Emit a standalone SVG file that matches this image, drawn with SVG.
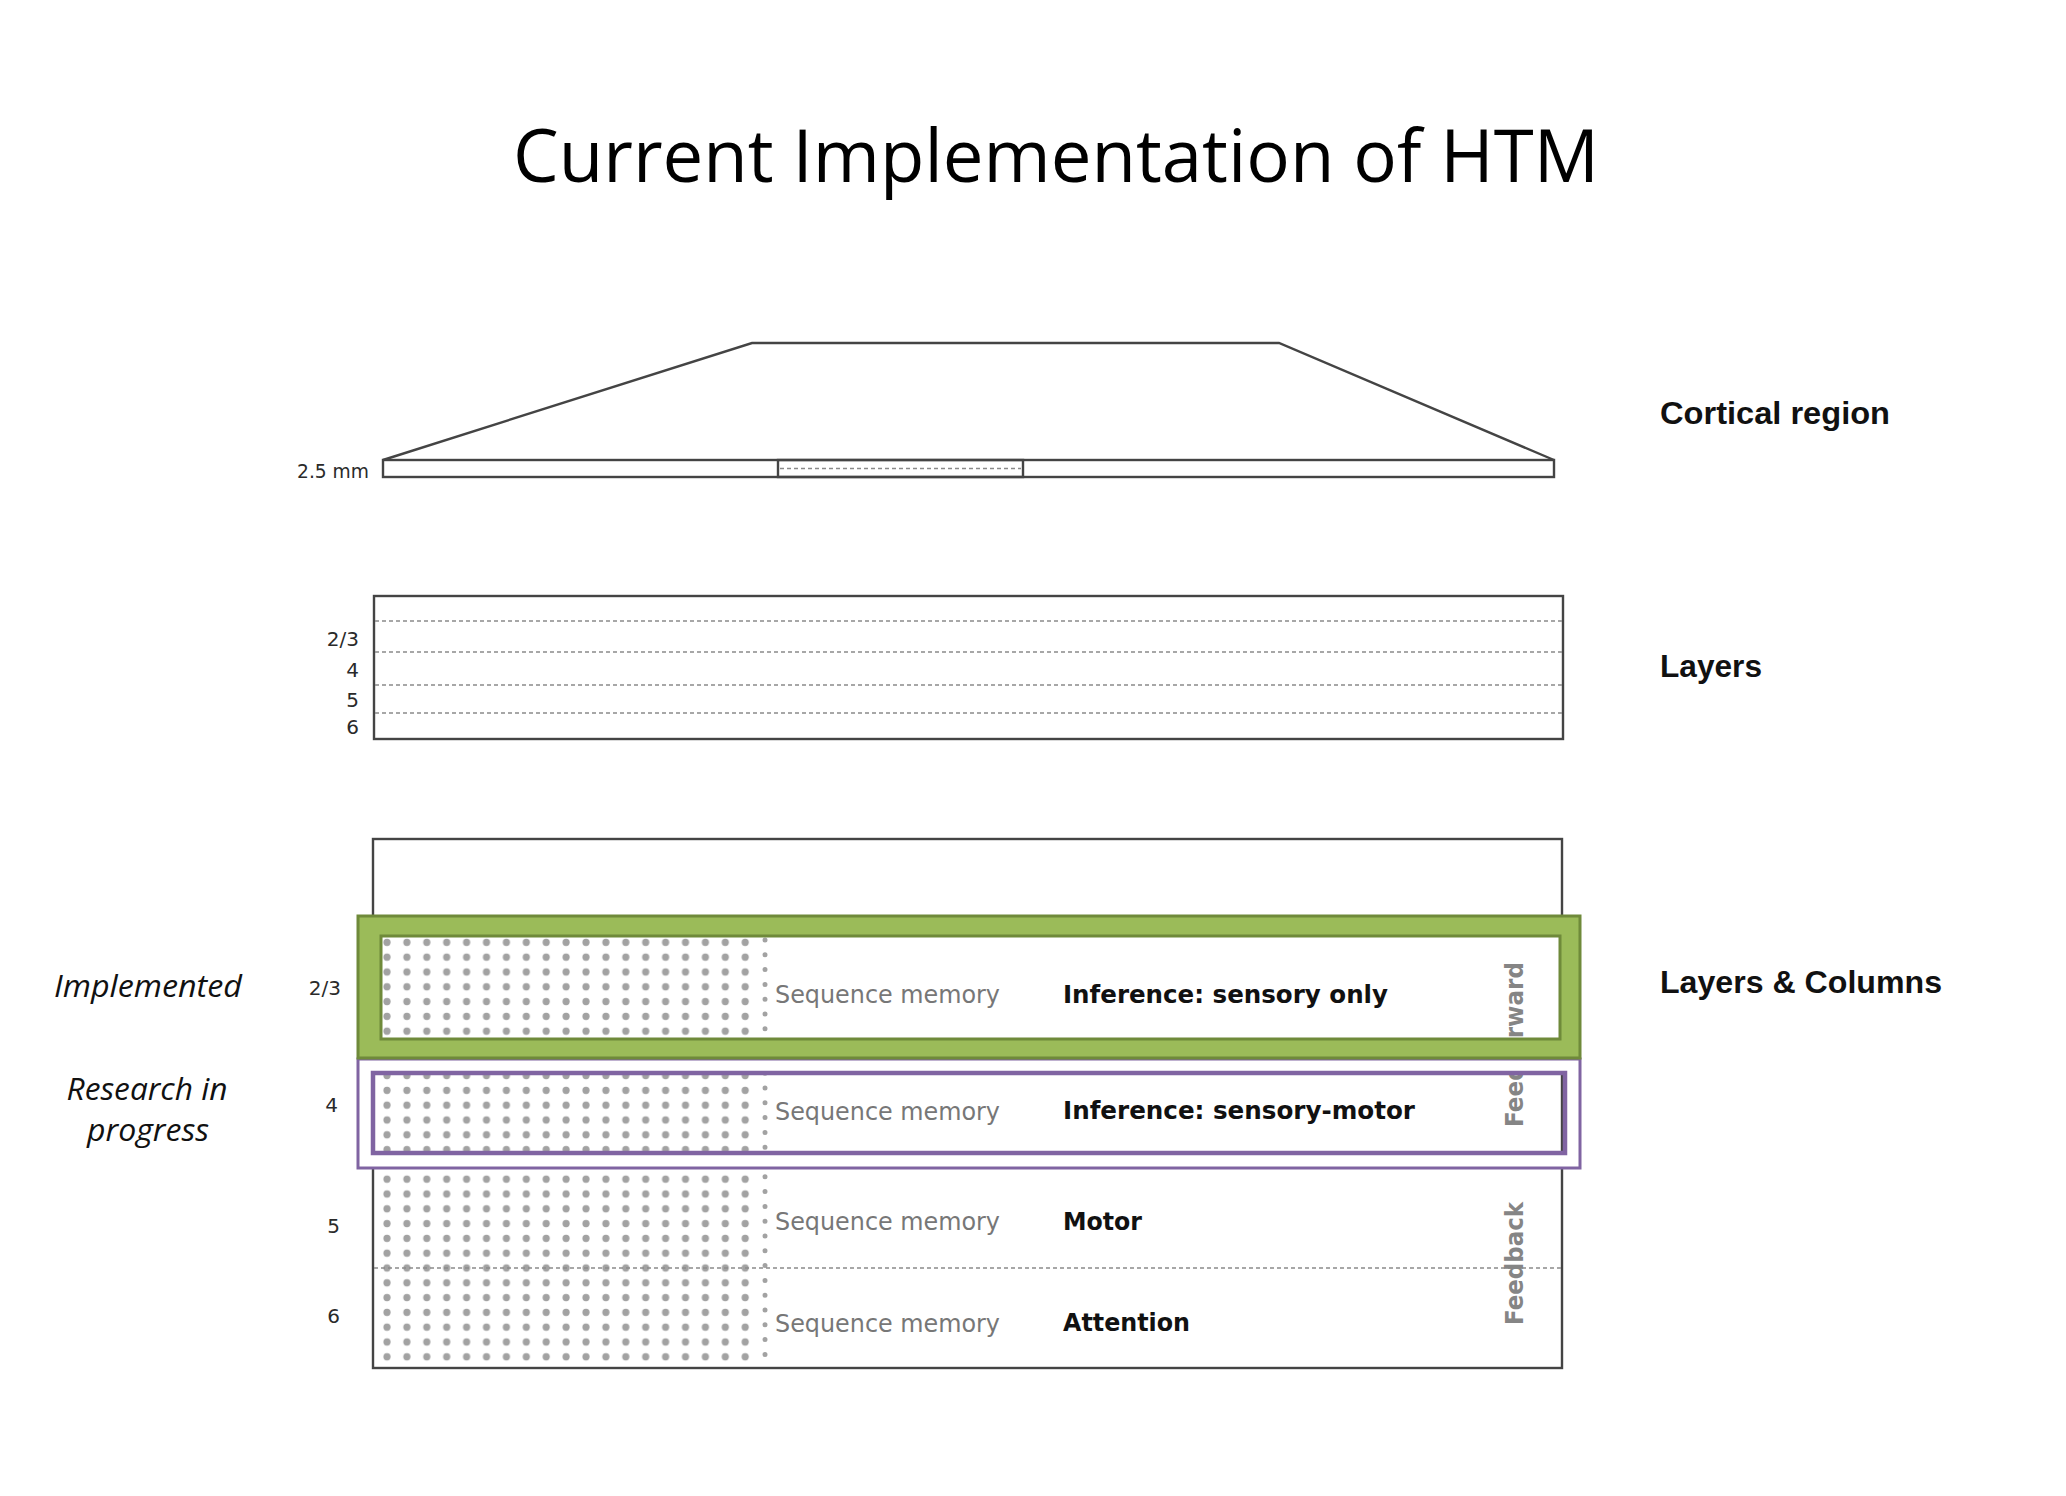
<svg xmlns="http://www.w3.org/2000/svg" width="2066" height="1496" viewBox="0 0 2066 1496">
<style>
.ln{fill:none;stroke:#444;stroke-width:2.4}
.dash{stroke:#8a8a8a;stroke-width:1.5;stroke-dasharray:4 3;fill:none}
.title{font-family:"Open Sans","Liberation Sans",sans-serif;font-size:74px;fill:#000}
.ital{font-family:"Open Sans","Liberation Sans",sans-serif;font-style:italic;font-size:31px;fill:#111}
.rlab{font-family:"Liberation Sans",Arial,sans-serif;font-weight:bold;font-size:32px;fill:#111}
.num{font-family:"DejaVu Sans",sans-serif;font-size:20px;fill:#2a2a2a}
.seq{font-family:"DejaVu Sans",sans-serif;font-size:24px;fill:#777}
.bl{font-family:"DejaVu Sans",sans-serif;font-weight:bold;font-size:24.5px;fill:#111}
.rot{font-family:"DejaVu Sans",sans-serif;font-weight:bold;font-size:25px;fill:#858585}
</style>
<defs>
<pattern id="dots" patternUnits="userSpaceOnUse" x="377" y="1260.6" width="19.9" height="14.8">
<circle cx="10" cy="7.4" r="3.6" fill="#a2a2a2"/>
</pattern>
</defs>
<rect width="2066" height="1496" fill="#fff"/>

<text class="title" x="513" y="182" textLength="1086" lengthAdjust="spacingAndGlyphs">Current Implementation of HTM</text>

<g id="cortical-region">
<path class="ln" d="M383,460 L752,343 L1279,343 L1554,460"/>
<rect class="ln" x="383" y="460" width="1171" height="17"/>
<rect class="ln" x="778" y="460" width="245" height="17"/>
<line class="dash" x1="780" y1="468.5" x2="1021" y2="468.5" stroke-dasharray="2 2"/>
<text class="num" x="297" y="478" textLength="72" lengthAdjust="spacingAndGlyphs">2.5 mm</text>
<text class="rlab" x="1660" y="424" textLength="230" lengthAdjust="spacingAndGlyphs">Cortical region</text>
</g>

<g id="layers">
<rect class="ln" x="374" y="596" width="1189" height="143" fill="#fff"/>
<line class="dash" x1="375" y1="621" x2="1562" y2="621"/>
<line class="dash" x1="375" y1="652" x2="1562" y2="652"/>
<line class="dash" x1="375" y1="685" x2="1562" y2="685"/>
<line class="dash" x1="375" y1="713" x2="1562" y2="713"/>
<text class="num" x="359" y="646" text-anchor="end" font-size="19">2/3</text>
<text class="num" x="359" y="677" text-anchor="end" font-size="19">4</text>
<text class="num" x="359" y="707" text-anchor="end" font-size="19">5</text>
<text class="num" x="359" y="734" text-anchor="end" font-size="19">6</text>
<text class="rlab" x="1660" y="677" textLength="102" lengthAdjust="spacingAndGlyphs">Layers</text>
</g>

<g id="layers-columns">
<rect class="ln" x="373" y="839" width="1189" height="529" fill="#fff"/>
<rect x="377" y="936" width="378" height="430" fill="url(#dots)"/>
<line x1="765" y1="940" x2="765" y2="1366" stroke="#a2a2a2" stroke-width="5" stroke-linecap="round" stroke-dasharray="0 14.8"/>
<line class="dash" x1="374" y1="1268" x2="1561" y2="1268" stroke="#9a9a9a" stroke-dasharray="3 2"/>
<text class="rot" transform="translate(1523,1127) rotate(-90)" textLength="165" lengthAdjust="spacingAndGlyphs">Feedforward</text>
<text class="rot" transform="translate(1523,1325) rotate(-90)" textLength="123" lengthAdjust="spacingAndGlyphs">Feedback</text>
<text class="rlab" x="1660" y="993" textLength="282" lengthAdjust="spacingAndGlyphs">Layers &amp; Columns</text>
</g>

<g id="research-box">
<path d="M358,1059 H1580 V1168 H358 Z M373,1073 V1153 H1565 V1073 Z" fill="#fff" fill-rule="evenodd"/>
<rect x="358" y="1059" width="1222" height="109" fill="none" stroke="#8064a2" stroke-width="3"/>
<rect x="373" y="1073" width="1192" height="80" fill="none" stroke="#8064a2" stroke-width="4.5"/>
</g>

<g id="implemented-box">
<path d="M358,916 H1580 V1058 H358 Z M381,936 V1039 H1560 V936 Z" fill="#9bbb59" fill-rule="evenodd" stroke="#6f8a3a" stroke-width="3"/>
</g>

<g id="row-23">
<text class="num" x="341" y="995" text-anchor="end" font-size="21">2/3</text>
<text class="seq" x="775" y="1003" textLength="225" lengthAdjust="spacingAndGlyphs">Sequence memory</text>
<text class="bl" x="1063" y="1003" textLength="325" lengthAdjust="spacingAndGlyphs">Inference: sensory only</text>
</g>
<g id="row-4">
<text class="num" x="338" y="1112" text-anchor="end" font-size="21">4</text>
<text class="seq" x="775" y="1120" textLength="225" lengthAdjust="spacingAndGlyphs">Sequence memory</text>
<text class="bl" x="1063" y="1119" textLength="352" lengthAdjust="spacingAndGlyphs">Inference: sensory-motor</text>
</g>
<g id="row-5">
<text class="num" x="340" y="1233" text-anchor="end" font-size="21">5</text>
<text class="seq" x="775" y="1230" textLength="225" lengthAdjust="spacingAndGlyphs">Sequence memory</text>
<text class="bl" x="1063" y="1230" textLength="79" lengthAdjust="spacingAndGlyphs">Motor</text>
</g>
<g id="row-6">
<text class="num" x="340" y="1323" text-anchor="end" font-size="21">6</text>
<text class="seq" x="775" y="1332" textLength="225" lengthAdjust="spacingAndGlyphs">Sequence memory</text>
<text class="bl" x="1063" y="1331" textLength="127" lengthAdjust="spacingAndGlyphs">Attention</text>
</g>

<g id="status-labels">
<text class="ital" x="148" y="997" text-anchor="middle" textLength="188" lengthAdjust="spacingAndGlyphs">Implemented</text>
<text class="ital" x="147" y="1100" text-anchor="middle" textLength="161" lengthAdjust="spacingAndGlyphs">Research in</text>
<text class="ital" x="148" y="1141" text-anchor="middle" textLength="122" lengthAdjust="spacingAndGlyphs">progress</text>
</g>
</svg>
